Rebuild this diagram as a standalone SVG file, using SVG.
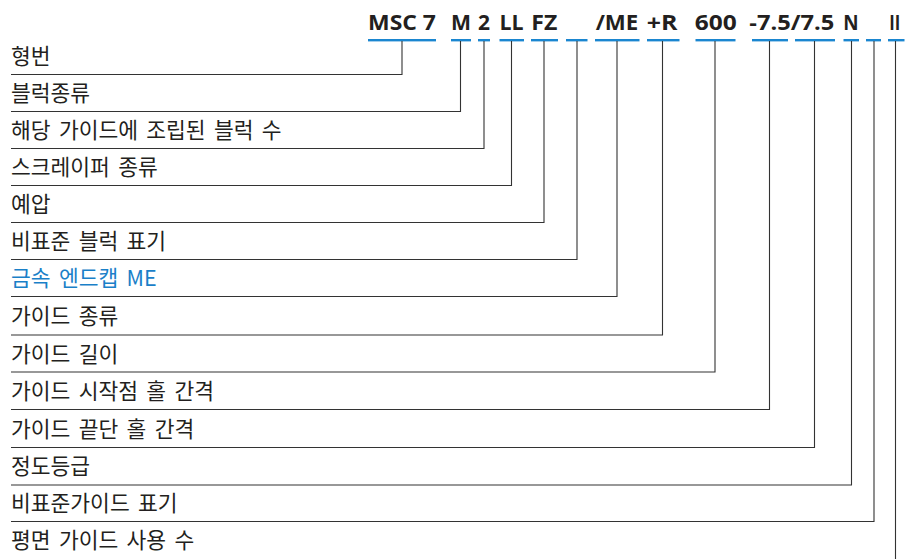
<svg xmlns="http://www.w3.org/2000/svg" width="906" height="559" viewBox="0 0 906 559">
<style>
.hd{font-family:"Open Sans","Liberation Sans",sans-serif;font-weight:700;font-size:22px;fill:#231f20;text-anchor:middle}
.lb{font-family:"Noto Sans CJK KR","Noto Sans",sans-serif;font-size:21.5px;word-spacing:3.5px;fill:#231f20}
.bl{fill:#1a80c8}
.seg{fill:#1a86d0}
.ln{fill:none;stroke:#333;stroke-width:1.1}
</style>
<rect width="906" height="559" fill="#fff"/>
<g id="header">
<text class="hd" x="402" y="29.5" textLength="68" lengthAdjust="spacingAndGlyphs">MSC 7</text>
<text class="hd" x="461" y="29.5" textLength="20" lengthAdjust="spacingAndGlyphs">M</text>
<text class="hd" x="484" y="29.5" textLength="12" lengthAdjust="spacingAndGlyphs">2</text>
<text class="hd" x="511.5" y="29.5" textLength="24" lengthAdjust="spacingAndGlyphs">LL</text>
<text class="hd" x="544.3" y="29.5" textLength="26" lengthAdjust="spacingAndGlyphs">FZ</text>
<text class="hd" x="617" y="29.5" textLength="42.6" lengthAdjust="spacingAndGlyphs">/ME</text>
<text class="hd" x="662" y="29.5" textLength="30.7" lengthAdjust="spacingAndGlyphs">+R</text>
<text class="hd" x="715.7" y="29.5" textLength="42" lengthAdjust="spacingAndGlyphs">600</text>
<text class="hd" x="791.8" y="29.5" textLength="85" lengthAdjust="spacingAndGlyphs">-7.5/7.5</text>
<text class="hd" x="851" y="29.5" textLength="15.3" lengthAdjust="spacingAndGlyphs">N</text>
<text class="hd" x="894.8" y="29.5" textLength="11" lengthAdjust="spacingAndGlyphs">II</text>
</g>
<g id="segments">
<rect class="seg" x="368" y="39" width="68" height="2.4"/>
<rect class="seg" x="451" y="39" width="20" height="2.4"/>
<rect class="seg" x="478" y="39" width="12" height="2.4"/>
<rect class="seg" x="499.5" y="39" width="24.5" height="2.4"/>
<rect class="seg" x="531" y="39" width="27" height="2.4"/>
<rect class="seg" x="566" y="39" width="21.5" height="2.4"/>
<rect class="seg" x="595" y="39" width="44.5" height="2.4"/>
<rect class="seg" x="647" y="39" width="32.5" height="2.4"/>
<rect class="seg" x="695.5" y="39" width="40" height="2.4"/>
<rect class="seg" x="752" y="39" width="36" height="2.4"/>
<rect class="seg" x="795" y="39" width="40" height="2.4"/>
<rect class="seg" x="843.5" y="39" width="15.5" height="2.4"/>
<rect class="seg" x="866" y="39" width="15" height="2.4"/>
<rect class="seg" x="888" y="39" width="16.5" height="2.4"/>
</g>
<g id="connectors">
<polyline class="ln" points="402,41 402,74.5 11,74.5"/>
<polyline class="ln" points="460.5,41 460.5,111.5 11,111.5"/>
<polyline class="ln" points="484,41 484,148.5 11,148.5"/>
<polyline class="ln" points="511.5,41 511.5,185.5 11,185.5"/>
<polyline class="ln" points="544,41 544,222.5 11,222.5"/>
<polyline class="ln" points="577,41 577,259.5 11,259.5"/>
<polyline class="ln" points="617,41 617,296.5 11,296.5"/>
<polyline class="ln" points="662.5,41 662.5,335 11,335"/>
<polyline class="ln" points="715,41 715,372 11,372"/>
<polyline class="ln" points="769.5,41 769.5,409.5 11,409.5"/>
<polyline class="ln" points="814.5,41 814.5,447.5 11,447.5"/>
<polyline class="ln" points="851.5,41 851.5,485 11,485"/>
<polyline class="ln" points="874,41 874,521.5 11,521.5"/>
<polyline class="ln" points="895.5,41 895.5,559"/>
</g>
<g id="n1"><text class="lb" x="11" y="64">형번</text></g>
<g id="n2"><text class="lb" x="11" y="101">블럭종류</text></g>
<g id="n3"><text class="lb" x="11" y="138">해당 가이드에 조립된 블럭 수</text></g>
<g id="n4"><text class="lb" x="11" y="175">스크레이퍼 종류</text></g>
<g id="n5"><text class="lb" x="11" y="212">예압</text></g>
<g id="n6"><text class="lb" x="11" y="249">비표준 블럭 표기</text></g>
<g id="n7"><text class="lb bl" x="11" y="286">금속 엔드캡 ME</text></g>
<g id="n8"><text class="lb" x="11" y="324">가이드 종류</text></g>
<g id="n9"><text class="lb" x="11" y="361.5">가이드 길이</text></g>
<g id="n10"><text class="lb" x="11" y="399">가이드 시작점 홀 간격</text></g>
<g id="n11"><text class="lb" x="11" y="436.5">가이드 끝단 홀 간격</text></g>
<g id="n12"><text class="lb" x="11" y="474">정도등급</text></g>
<g id="n13"><text class="lb" x="11" y="511">비표준가이드 표기</text></g>
<g id="n14"><text class="lb" x="11" y="548">평면 가이드 사용 수</text></g>
</svg>
